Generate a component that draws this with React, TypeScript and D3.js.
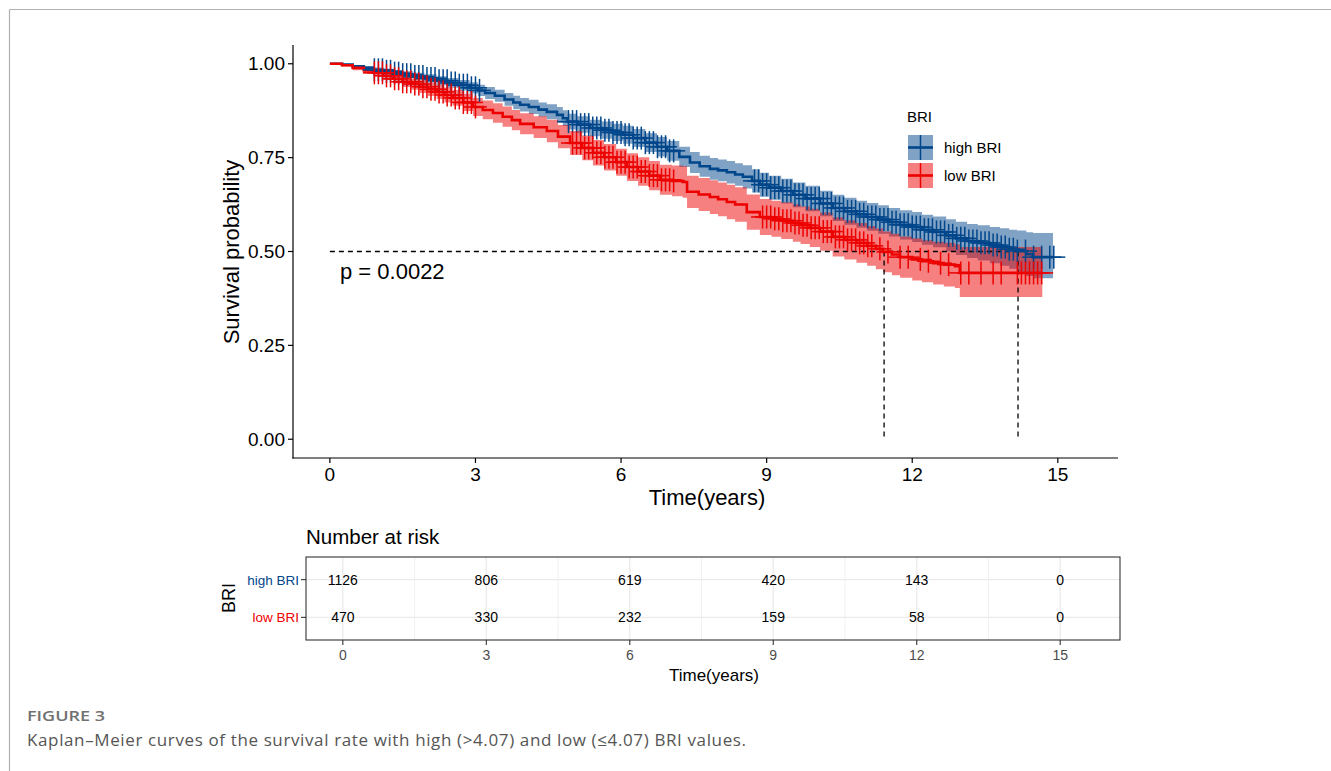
import React from "react";
import * as d3 from "d3";

// ---- data ----
const groups = ["high BRI", "low BRI"];
const lineColors = ["#00468B", "#ED0000"];

// high BRI Kaplan-Meier steps (years, survival, 95% CI)
const highTime = [
  0, 0.25, 0.47, 0.7, 0.89, 1.1, 1.3, 1.5, 1.72, 1.95, 2.2, 2.42, 2.65, 2.88, 3.05, 3.2, 3.4, 3.6, 3.78, 3.92,
  4.1, 4.3, 4.47, 4.68, 4.8, 4.9, 5.1, 5.36, 5.6, 5.82, 6.04, 6.25, 6.5, 6.74, 6.95, 7.2, 7.42, 7.62, 7.83, 8.0,
  8.18, 8.35, 8.51, 8.7, 8.86, 9.05, 9.3, 9.54, 9.8, 10.1, 10.36, 10.6, 10.85, 11.07, 11.3, 11.52, 11.75, 12.0,
  12.2, 12.43, 12.7, 12.9, 13.13, 13.35, 13.6, 13.81, 14.0, 14.16, 14.35, 14.49,
];
const highSurv = [
  1, 0.998, 0.993, 0.989, 0.984, 0.98, 0.975, 0.971, 0.966, 0.961, 0.955, 0.949, 0.943, 0.936, 0.929, 0.922, 0.915,
  0.905, 0.897, 0.891, 0.885, 0.878, 0.872, 0.864, 0.855, 0.846, 0.838, 0.829, 0.823, 0.817, 0.811, 0.802, 0.79,
  0.779, 0.768, 0.752, 0.737, 0.727, 0.72, 0.716, 0.711, 0.705, 0.699, 0.688, 0.678, 0.67, 0.661, 0.651, 0.641,
  0.628, 0.616, 0.607, 0.599, 0.592, 0.585, 0.578, 0.571, 0.565, 0.558, 0.552, 0.543, 0.535, 0.528, 0.523, 0.517,
  0.512, 0.506, 0.501, 0.493, 0.485,
];
const highLower = [
  1, 0.996, 0.989, 0.984, 0.978, 0.973, 0.967, 0.962, 0.956, 0.95, 0.943, 0.936, 0.929, 0.921, 0.914, 0.906, 0.899,
  0.888, 0.879, 0.873, 0.866, 0.859, 0.852, 0.843, 0.834, 0.825, 0.816, 0.807, 0.8, 0.794, 0.787, 0.778, 0.765,
  0.753, 0.742, 0.725, 0.709, 0.699, 0.691, 0.687, 0.681, 0.675, 0.668, 0.657, 0.646, 0.638, 0.628, 0.618, 0.607,
  0.594, 0.581, 0.571, 0.563, 0.555, 0.547, 0.54, 0.532, 0.525, 0.518, 0.511, 0.5, 0.491, 0.483, 0.476, 0.469,
  0.462, 0.454, 0.446, 0.435, 0.429,
];
const highUpper = [
  1, 1, 0.997, 0.994, 0.99, 0.987, 0.983, 0.98, 0.976, 0.972, 0.967, 0.962, 0.957, 0.951, 0.944, 0.938, 0.931,
  0.922, 0.915, 0.909, 0.904, 0.897, 0.892, 0.885, 0.876, 0.867, 0.86, 0.851, 0.846, 0.84, 0.835, 0.826, 0.815,
  0.805, 0.794, 0.779, 0.765, 0.755, 0.749, 0.745, 0.741, 0.735, 0.73, 0.719, 0.71, 0.702, 0.694, 0.684, 0.675,
  0.662, 0.651, 0.643, 0.635, 0.629, 0.623, 0.616, 0.61, 0.605, 0.598, 0.593, 0.586, 0.579, 0.573, 0.57, 0.565,
  0.562, 0.558, 0.556, 0.551, 0.549,
];
const highEnd = 14.9;
const highCensorMonths = [
  11, 12, 13, 14, 15, 16, 17, 18, 19, 20, 21, 22, 23, 24, 25, 26, 27, 28, 29, 30, 31, 32, 33, 34, 35, 36, 37,
  59, 60, 61, 62, 63, 64, 65, 66, 67, 68, 69, 70, 71, 72, 73, 74, 75, 76, 77, 78, 79, 80, 81, 82, 83, 84, 85,
  105, 106, 107, 108, 109, 110, 111, 112, 113, 114, 115, 116, 117, 118, 119, 120, 121, 122, 123, 124, 125, 126,
  127, 128, 129, 130, 131, 132, 133, 134, 135, 136, 137, 138, 139, 140, 141, 142, 143, 144, 145, 146, 147, 148,
  149, 150, 151, 152, 153, 154, 155, 156, 157, 158, 159, 160, 161, 162, 163, 164, 165, 166, 167, 168, 169, 170,
  172, 174, 176, 178, 179,
];

// low BRI Kaplan-Meier steps
const lowTime = [
  0, 0.25, 0.47, 0.7, 0.89, 1.1, 1.3, 1.5, 1.68, 1.85, 2.02, 2.2, 2.36, 2.53, 2.75, 2.95, 3.15, 3.36, 3.56, 3.75,
  3.92, 4.2, 4.47, 4.7, 4.95, 5.2, 5.42, 5.65, 5.9, 6.12, 6.35, 6.58, 6.8, 7.05, 7.27, 7.36, 7.6, 7.83, 8.0, 8.18,
  8.35, 8.59, 8.86, 9.1, 9.3, 9.54, 9.7, 9.89, 10.1, 10.36, 10.6, 10.85, 11.07, 11.25, 11.4, 11.58, 11.75, 12.0,
  12.2, 12.43, 12.65, 12.88, 12.98,
];
const lowSurv = [
  1, 0.996, 0.989, 0.982, 0.976, 0.968, 0.96, 0.952, 0.946, 0.939, 0.932, 0.925, 0.917, 0.909, 0.897, 0.885, 0.877,
  0.869, 0.859, 0.85, 0.84, 0.831, 0.821, 0.806, 0.789, 0.776, 0.763, 0.751, 0.738, 0.725, 0.713, 0.702, 0.691,
  0.688, 0.685, 0.659, 0.652, 0.645, 0.639, 0.632, 0.625, 0.605, 0.592, 0.587, 0.582, 0.576, 0.57, 0.563, 0.553,
  0.539, 0.531, 0.523, 0.515, 0.507, 0.499, 0.492, 0.485, 0.479, 0.474, 0.469, 0.465, 0.461, 0.443,
];
const lowLower = [
  1, 0.993, 0.983, 0.974, 0.967, 0.957, 0.948, 0.938, 0.931, 0.922, 0.914, 0.906, 0.897, 0.888, 0.874, 0.861, 0.852,
  0.843, 0.832, 0.823, 0.812, 0.802, 0.791, 0.775, 0.757, 0.743, 0.729, 0.716, 0.702, 0.688, 0.675, 0.663, 0.651,
  0.647, 0.643, 0.616, 0.608, 0.6, 0.594, 0.586, 0.579, 0.558, 0.544, 0.539, 0.533, 0.526, 0.52, 0.512, 0.502,
  0.487, 0.479, 0.47, 0.462, 0.453, 0.445, 0.437, 0.43, 0.423, 0.418, 0.412, 0.407, 0.403, 0.379,
];
const lowUpper = [
  1, 0.999, 0.995, 0.99, 0.985, 0.979, 0.972, 0.966, 0.961, 0.956, 0.95, 0.944, 0.937, 0.93, 0.92, 0.909, 0.902,
  0.895, 0.886, 0.877, 0.868, 0.86, 0.851, 0.837, 0.821, 0.809, 0.797, 0.786, 0.774, 0.762, 0.751, 0.741, 0.731,
  0.729, 0.727, 0.702, 0.696, 0.69, 0.684, 0.678, 0.671, 0.652, 0.64, 0.635, 0.631, 0.626, 0.62, 0.614, 0.604,
  0.591, 0.583, 0.576, 0.568, 0.561, 0.553, 0.547, 0.54, 0.535, 0.53, 0.526, 0.523, 0.519, 0.512,
];
const lowEnd = 14.68;
const lowCensorMonths = [
  11, 12, 13, 14, 15, 16, 17, 18, 19, 20, 21, 22, 23, 24, 25, 26, 27, 28, 29, 30, 31, 32, 33, 34, 35, 36,
  60, 61, 62, 63, 64, 65, 66, 67, 68, 69, 70, 71, 72, 73, 74, 75, 76, 77, 78, 79, 80, 81, 82, 83, 84, 85,
  107, 108, 109, 110, 111, 112, 113, 114, 115, 116, 117, 118, 119, 120, 121, 122, 123, 124, 125, 126, 127, 128,
  129, 130, 131, 132, 133, 134, 136, 138, 141, 143, 146, 148, 151, 153, 156, 158, 161, 164, 166,
  170, 171, 172, 173, 174, 175, 176,
];

const medianTimes = [14.18, 11.42];
const xTicks = [0, 3, 6, 9, 12, 15];
const yTicks = [0, 0.25, 0.5, 0.75, 1];
const riskTimes = [0, 3, 6, 9, 12, 15];
const highRisk = [1126, 806, 619, 420, 143, 0];
const lowRisk = [470, 330, 232, 159, 58, 0];
const minorTicks = [1.5, 4.5, 7.5, 10.5, 13.5];
const pLabel = "p = 0.0022";

const FONT = "'Liberation Sans', Arial, Helvetica, sans-serif";
const CAPTION_FONT = "'Open Sans', 'Noto Sans', sans-serif";

type Pt = { t: number; s: number; lo: number; hi: number };

function steps(time: number[], surv: number[], lo: number[], hi: number[], end: number): Pt[] {
  const pts = time.map((t, i) => ({ t, s: surv[i], lo: lo[i], hi: hi[i] }));
  const last = pts[pts.length - 1];
  pts.push({ ...last, t: end });
  return pts;
}

function survAt(pts: Pt[], t: number) {
  let s = 1;
  for (const p of pts) if (p.t <= t) s = p.s;
  return s;
}

export default function App() {
  const x = d3.scaleLinear().domain([-0.76, 16.24]).range([293, 1118]);
  const y = d3.scaleLinear().domain([-0.05, 1.05]).range([458, 45]);
  const xr = d3.scaleLinear().domain([-0.77, 16.25]).range([306, 1120]);
  const yr = d3.scalePoint<string>().domain(groups).range([557, 640]).padding(0.6);

  const series = [
    { pts: steps(highTime, highSurv, highLower, highUpper, highEnd), censor: highCensorMonths },
    { pts: steps(lowTime, lowSurv, lowLower, lowUpper, lowEnd), censor: lowCensorMonths },
  ];
  const risks = [highRisk, lowRisk];

  const line = d3
    .line<Pt>()
    .x((d) => x(d.t))
    .y((d) => y(d.s))
    .curve(d3.curveStepAfter);
  const band = d3
    .area<Pt>()
    .x((d) => x(d.t))
    .y0((d) => y(d.lo))
    .y1((d) => y(d.hi))
    .curve(d3.curveStepAfter);

  const arm = 11.5;

  return (
    <svg
      width={1331}
      height={771}
      style={{ position: "absolute", left: 0, top: 0, background: "#fff" }}
      fontFamily={FONT}
    >
      {/* page frame */}
      <line x1={9.5} x2={1331} y1={9.5} y2={9.5} stroke="#b0b0b0" strokeWidth={1.2} />
      <line x1={9.5} x2={9.5} y1={9.5} y2={771} stroke="#b0b0b0" strokeWidth={1.2} />

      {/* confidence bands */}
      {series.map((g, i) => (
        <path key={"b" + i} d={band(g.pts) || ""} fill={lineColors[i]} fillOpacity={0.5} />
      ))}

      {/* median lines */}
      <line
        x1={x(0)}
        x2={x(d3.max(medianTimes) as number)}
        y1={y(0.5)}
        y2={y(0.5)}
        stroke="#000"
        strokeWidth={1.3}
        strokeDasharray="5,4"
      />
      {medianTimes.map((m) => (
        <line key={m} x1={x(m)} x2={x(m)} y1={y(0.5)} y2={y(0)} stroke="#000" strokeWidth={1.3} strokeDasharray="5,4" />
      ))}

      {/* survival curves */}
      {series.map((g, i) => (
        <path key={"l" + i} d={line(g.pts) || ""} fill="none" stroke={lineColors[i]} strokeWidth={2.6} />
      ))}

      {/* censor marks */}
      {series.map((g, i) => (
        <g key={"c" + i} stroke={lineColors[i]} strokeWidth={1.5}>
          {g.censor.map((m) => {
            const t = m / 12;
            const cx = x(t);
            const cy = y(survAt(g.pts, t));
            return (
              <g key={m}>
                <line x1={cx} x2={cx} y1={cy - arm} y2={cy + arm} />
                <line x1={cx - arm} x2={cx + arm} y1={cy} y2={cy} />
              </g>
            );
          })}
        </g>
      ))}

      {/* axes */}
      <line x1={293} x2={293} y1={45} y2={458.6} stroke="#000" strokeWidth={1.2} />
      <line x1={292.4} x2={1118} y1={458} y2={458} stroke="#000" strokeWidth={1.2} />
      {yTicks.map((v) => (
        <g key={v}>
          <line x1={288} x2={293} y1={y(v)} y2={y(v)} stroke="#000" strokeWidth={1.2} />
          <text x={285} y={y(v) + 6.5} fontSize={19} textAnchor="end" fill="#000">
            {v.toFixed(2)}
          </text>
        </g>
      ))}
      {xTicks.map((v) => (
        <g key={v}>
          <line x1={x(v)} x2={x(v)} y1={458} y2={463} stroke="#000" strokeWidth={1.2} />
          <text x={x(v)} y={481} fontSize={19} textAnchor="middle" fill="#000">
            {v}
          </text>
        </g>
      ))}
      <text x={707} y={505} fontSize={22} textAnchor="middle">
        Time(years)
      </text>
      <text transform="translate(239,252) rotate(-90)" fontSize={22} textAnchor="middle">
        Survival probability
      </text>
      <text x={340} y={279} fontSize={22}>
        {pLabel}
      </text>

      {/* legend */}
      <text x={907} y={122} fontSize={15}>
        BRI
      </text>
      {groups.map((gname, i) => {
        const ky = 135 + i * 28;
        return (
          <g key={gname}>
            <rect x={908} y={ky} width={25} height={25} fill={lineColors[i]} fillOpacity={0.5} />
            <line x1={908} x2={933} y1={ky + 12.5} y2={ky + 12.5} stroke={lineColors[i]} strokeWidth={2.6} />
            <line x1={920.5} x2={920.5} y1={ky} y2={ky + 25} stroke={lineColors[i]} strokeWidth={1.5} />
            <text x={944} y={ky + 18} fontSize={15}>
              {gname}
            </text>
          </g>
        );
      })}

      {/* risk table */}
      <text x={306} y={544} fontSize={20.5}>
        Number at risk
      </text>
      {minorTicks.map((v) => (
        <line key={v} x1={xr(v)} x2={xr(v)} y1={557} y2={640} stroke="#EBEBEB" strokeWidth={0.7} />
      ))}
      {riskTimes.map((v) => (
        <line key={v} x1={xr(v)} x2={xr(v)} y1={557} y2={640} stroke="#EBEBEB" strokeWidth={1.3} />
      ))}
      {groups.map((gname) => (
        <line key={gname} x1={306} x2={1120} y1={yr(gname)} y2={yr(gname)} stroke="#EBEBEB" strokeWidth={1.3} />
      ))}
      {groups.map((gname, i) =>
        riskTimes.map((t, j) => (
          <text key={gname + t} x={xr(t)} y={(yr(gname) as number) + 5} fontSize={14} textAnchor="middle" fill="#000">
            {risks[i][j]}
          </text>
        ))
      )}
      <rect x={306} y={557} width={814} height={83} fill="none" stroke="#333" strokeWidth={1.1} />
      {groups.map((gname, i) => (
        <g key={gname}>
          <line x1={301} x2={306} y1={yr(gname)} y2={yr(gname)} stroke="#333" strokeWidth={1.1} />
          <text x={299} y={(yr(gname) as number) + 5} fontSize={13.5} textAnchor="end" fill={lineColors[i]}>
            {gname}
          </text>
        </g>
      ))}
      {riskTimes.map((v) => (
        <g key={v}>
          <line x1={xr(v)} x2={xr(v)} y1={640} y2={645} stroke="#333" strokeWidth={1.1} />
          <text x={xr(v)} y={660} fontSize={14} textAnchor="middle" fill="#4D4D4D">
            {v}
          </text>
        </g>
      ))}
      <text x={714} y={681} fontSize={17} textAnchor="middle">
        Time(years)
      </text>
      <text transform="translate(235,598) rotate(-90)" fontSize={18} textAnchor="middle">
        BRI
      </text>

      {/* caption */}
      <text
        x={27}
        y={721}
        fontSize={15}
        fontWeight={600}
        fill="#707070"
        fontFamily={CAPTION_FONT}
        textLength={78}
        lengthAdjust="spacingAndGlyphs"
      >
        FIGURE 3
      </text>
      <text
        x={27}
        y={746}
        fontSize={17}
        fill="#555"
        fontFamily={CAPTION_FONT}
        textLength={719}
        lengthAdjust="spacing"
      >
        Kaplan–Meier curves of the survival rate with high (&gt;4.07) and low (≤4.07) BRI values.
      </text>
    </svg>
  );
}
